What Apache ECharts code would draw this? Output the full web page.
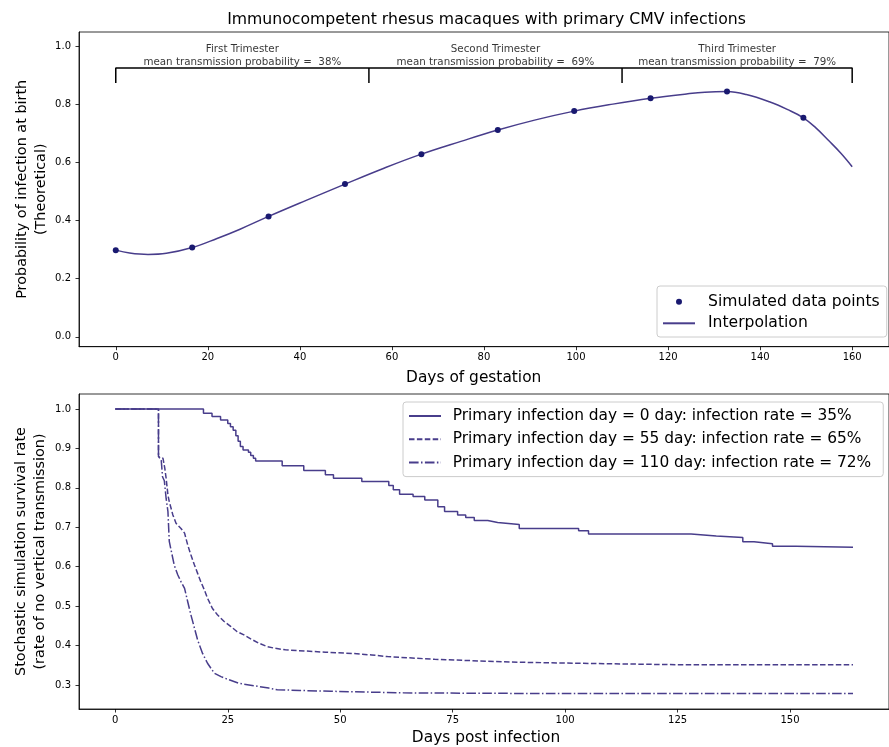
<!DOCTYPE html>
<html>
<head>
<meta charset="utf-8">
<script src="https://cdn.jsdelivr.net/npm/echarts@6/dist/echarts.min.js"></script>
<style>
html, body { margin: 0; padding: 0; background: #fff; }
#chart { width: 889px; height: 747px; }
</style>
</head>
<body>
<div id="chart"></div>
<script>
// ---------- data ----------
const chartTitle = 'Immunocompetent rhesus macaques with primary CMV infections';

// top panel: simulated points
const simX = [0, 16.6, 33.2, 49.8, 66.4, 83.0, 99.6, 116.2, 132.8, 149.4];
const simY = [0.298, 0.307, 0.414, 0.525, 0.628, 0.711, 0.776, 0.820, 0.843, 0.753];

// top panel: interpolation curve
const interpX = [0, 3, 7, 11, 16.6, 22, 27, 33.2, 41.5, 49.8, 58, 66.4, 75, 83, 91, 99.6, 108, 116.2, 124, 128, 132.8, 137, 142, 146, 149.4, 152, 155, 157.5, 160];
const interpY = [0.298, 0.288, 0.283, 0.287, 0.307, 0.338, 0.370, 0.414, 0.470, 0.525, 0.578, 0.628, 0.672, 0.711, 0.745, 0.776, 0.800, 0.820, 0.835, 0.841, 0.843, 0.833, 0.808, 0.781, 0.753, 0.720, 0.673, 0.632, 0.585];

// trimester brackets
const bracketX = [0, 55, 110, 160];
const bracketTop = 0.924;
const bracketLow = 0.873;
const trimesterNames = ['First Trimester', 'Second Trimester', 'Third Trimester'];
const trimesterProb = ['38%', '69%', '79%'];
const trimesterLabelY = 0.965;

// top axis ticks
const topXTicks = [0, 20, 40, 60, 80, 100, 120, 140, 160];
const topYTicks = [0, 0.2, 0.4, 0.6, 0.8, 1.0];

// bottom panel: survival curves [day, rate]
const nameDay0 = 'Primary infection day = 0 day: infection rate = 35%';
const nameDay55 = 'Primary infection day = 55 day: infection rate = 65%';
const nameDay110 = 'Primary infection day = 110 day: infection rate = 72%';

const day0X = [0, 19.6, 21.5, 23.4, 25.0, 25.6, 26.2, 26.8, 27.3, 27.8, 28.4, 29.6, 30.1, 30.7, 31.2, 37.1, 41.9, 46.7, 48.5, 54.8, 60.8, 61.8, 63.2, 66.2, 68.8, 71.7, 73.2, 76.1, 77.9, 79.8, 82.8, 85.0, 89.8, 103.0, 105.2, 128.0, 133.6, 139.5, 142.0, 146.1, 151.3, 164.0];
const day0Y = [1.0, 0.989, 0.981, 0.972, 0.963, 0.955, 0.946, 0.932, 0.918, 0.905, 0.896, 0.890, 0.882, 0.875, 0.868, 0.856, 0.844, 0.833, 0.824, 0.816, 0.806, 0.795, 0.784, 0.778, 0.769, 0.752, 0.740, 0.731, 0.725, 0.717, 0.712, 0.707, 0.697, 0.691, 0.683, 0.678, 0.674, 0.663, 0.658, 0.652, 0.649, 0.649];

const day55X = [0, 9.6, 9.6, 10.6, 11.0, 11.3, 11.7, 12.0, 12.8, 13.5, 14.6, 15.4, 16.1, 16.8, 17.6, 18.3, 19.0, 19.8, 20.5, 21.6, 22.7, 24.2, 25.7, 27.1, 28.6, 30.1, 31.9, 33.8, 35.5, 37.8, 42.3, 46.7, 52.6, 57.0, 60.5, 71.0, 73.5, 88.0, 102.6, 127.0, 164.0];
const day55Y = [1.0, 1.0, 0.879, 0.875, 0.850, 0.824, 0.782, 0.765, 0.731, 0.710, 0.697, 0.685, 0.655, 0.630, 0.604, 0.583, 0.562, 0.541, 0.520, 0.494, 0.478, 0.461, 0.448, 0.435, 0.427, 0.417, 0.406, 0.397, 0.393, 0.389, 0.386, 0.383, 0.380, 0.376, 0.372, 0.365, 0.364, 0.358, 0.355, 0.351, 0.351];

const day110X = [0, 9.6, 9.6, 10.2, 10.5, 10.9, 11.3, 11.7, 12.0, 12.4, 13.1, 13.9, 14.6, 15.4, 16.1, 16.8, 17.6, 18.3, 19.4, 20.5, 22.0, 23.5, 25.3, 27.5, 29.7, 31.9, 34.1, 36.0, 41.0, 48.0, 56.0, 64.0, 80.0, 100.0, 164.0];
const day110Y = [1.0, 1.0, 0.879, 0.872, 0.828, 0.818, 0.773, 0.740, 0.664, 0.642, 0.604, 0.579, 0.562, 0.545, 0.511, 0.478, 0.444, 0.414, 0.380, 0.355, 0.330, 0.321, 0.313, 0.304, 0.300, 0.296, 0.292, 0.288, 0.286, 0.284, 0.282, 0.280, 0.279, 0.278, 0.278];

const botXTicks = [0, 25, 50, 75, 100, 125, 150];
const botYTicks = [0.3, 0.4, 0.5, 0.6, 0.7, 0.8, 0.9, 1.0];

// ---------- chart ----------
const FONT = "'DejaVu Sans', 'Noto Sans', sans-serif";
const LINE_COLOR = '#483D8B';
const POINT_COLOR = '#191970';

const zip = (xs, ys) => xs.map((x, i) => [x, ys[i]]);

const bracketData = [];
bracketX.forEach((x, i) => {
  if (i === 0) { bracketData.push([x, bracketLow]); bracketData.push([x, bracketTop]); }
  else { bracketData.push([x, bracketTop]); bracketData.push([x, bracketLow]); if (i < bracketX.length - 1) bracketData.push([x, bracketTop]); }
});
const trimesterData = trimesterNames.map((n, i) => ({
  value: [(bracketX[i] + bracketX[i + 1]) / 2, trimesterLabelY],
  name: n + '\nmean transmission probability =  ' + trimesterProb[i]
}));

function axisCommon(ticks, fmt) {
  return {
    type: 'value',
    axisLine: { show: true, onZero: false, lineStyle: { color: '#000', width: 0.8 } },
    axisTick: { show: true, length: 3.5, lineStyle: { color: '#000', width: 0.8 }, customValues: ticks },
    axisLabel: { customValues: ticks, color: '#000', fontSize: 10, fontFamily: FONT, formatter: fmt },
    splitLine: { show: false },
    minorTick: { show: false }
  };
}

// legend entries for line series: hide the marker that ECharts adds to line icons
const hiddenMarker = { color: 'rgba(0,0,0,0)', borderWidth: 0, opacity: 0 };

const chart = echarts.init(document.getElementById('chart'), null, { renderer: 'canvas' });

const option = {
  animation: false,
  backgroundColor: '#fff',
  textStyle: { fontFamily: FONT },
  grid: [
    { left: 79, top: 32, width: 815, height: 314.7, show: true, borderColor: '#000', borderWidth: 0.8, containLabel: false },
    { left: 79, top: 394, width: 815, height: 315, show: true, borderColor: '#000', borderWidth: 0.8, containLabel: false }
  ],
  xAxis: [
    Object.assign(axisCommon(topXTicks, v => String(v)), { gridIndex: 0, min: -7.99, max: 168, axisLabel: { customValues: topXTicks, color: '#000', fontSize: 10, fontFamily: FONT, margin: 6 } }),
    Object.assign(axisCommon(botXTicks, v => String(v)), { gridIndex: 1, min: -8.07, max: 172.0, axisLabel: { customValues: botXTicks, color: '#000', fontSize: 10, fontFamily: FONT, margin: 6 } })
  ],
  yAxis: [
    Object.assign(axisCommon(topYTicks, v => v.toFixed(1)), { gridIndex: 0, min: -0.034, max: 1.048 }),
    Object.assign(axisCommon(botYTicks, v => v.toFixed(1)), { gridIndex: 1, min: 0.239, max: 1.038 })
  ],
  legend: [
    {
      data: [{ name: 'Simulated data points' }, { name: 'Interpolation', itemStyle: hiddenMarker }],
      orient: 'vertical', left: 657, top: 286,
      itemWidth: 32, itemHeight: 6, itemGap: 3.6,
      padding: [6.7, 7, 4.7, 5],
      borderColor: '#cccccc', borderWidth: 1, borderRadius: 3,
      backgroundColor: 'rgba(255,255,255,0.8)',
      selectedMode: false,
      textStyle: { fontSize: 15.6, fontFamily: FONT, color: '#000', lineHeight: 18, padding: [0, 0, 0, 8] }
    },
    {
      data: [{ name: nameDay0, itemStyle: hiddenMarker }, { name: nameDay55, itemStyle: hiddenMarker }, { name: nameDay110, itemStyle: hiddenMarker }],
      orient: 'vertical', left: 403, top: 402,
      itemWidth: 32, itemHeight: 8, itemGap: 5.3,
      padding: [5, 12, 5, 5],
      borderColor: '#cccccc', borderWidth: 1, borderRadius: 3,
      backgroundColor: 'rgba(255,255,255,0.8)',
      selectedMode: false,
      textStyle: { fontSize: 15.4, fontFamily: FONT, color: '#000', lineHeight: 18, padding: [0, 0, 0, 6.7] }
    }
  ],
  graphic: [
    { type: 'text', x: 486.5, y: 20, style: { text: chartTitle, font: '15.7px ' + FONT, fill: '#000', align: 'center', verticalAlign: 'middle', textAlign: 'center', textVerticalAlign: 'middle' } },
    { type: 'text', x: 473.7, y: 378, style: { text: 'Days of gestation', font: '15.4px ' + FONT, fill: '#000', align: 'center', verticalAlign: 'middle', textAlign: 'center', textVerticalAlign: 'middle' } },
    { type: 'text', x: 486, y: 737.5, style: { text: 'Days post infection', font: '15.4px ' + FONT, fill: '#000', align: 'center', verticalAlign: 'middle', textAlign: 'center', textVerticalAlign: 'middle' } },
    { type: 'text', x: 31.5, y: 189.3, rotation: Math.PI / 2, style: { text: 'Probability of infection at birth\n(Theoretical)', font: '14.4px ' + FONT, lineHeight: 19.2, fill: '#000', align: 'center', verticalAlign: 'middle', textAlign: 'center', textVerticalAlign: 'middle' } },
    { type: 'text', x: 31, y: 551.5, rotation: Math.PI / 2, style: { text: 'Stochastic simulation survival rate\n(rate of no vertical transmission)', font: '14.4px ' + FONT, lineHeight: 19.2, fill: '#000', align: 'center', verticalAlign: 'middle', textAlign: 'center', textVerticalAlign: 'middle' } }
  ],
  series: [
    {
      name: 'Interpolation', type: 'line', xAxisIndex: 0, yAxisIndex: 0,
      data: zip(interpX, interpY), symbol: 'none', showSymbol: false, smooth: 0.4,
      lineStyle: { color: LINE_COLOR, width: 1.5 }, itemStyle: { color: LINE_COLOR }, z: 2
    },
    {
      name: 'Simulated data points', type: 'scatter', xAxisIndex: 0, yAxisIndex: 0,
      data: zip(simX, simY), symbol: 'circle', symbolSize: 6,
      itemStyle: { color: POINT_COLOR, opacity: 1 }, z: 3
    },
    {
      name: 'bracket', type: 'line', xAxisIndex: 0, yAxisIndex: 0,
      data: bracketData, symbol: 'none', silent: true,
      lineStyle: { color: '#000', width: 1.5 }, z: 2
    },
    {
      name: 'trimesters', type: 'scatter', xAxisIndex: 0, yAxisIndex: 0,
      data: trimesterData, symbolSize: 1, silent: true,
      itemStyle: { color: 'rgba(0,0,0,0)' },
      label: { show: true, position: 'inside', formatter: p => p.name, color: '#000', fontSize: 10.3, fontFamily: FONT, lineHeight: 13, align: 'center', verticalAlign: 'middle' }
    },
    {
      name: nameDay0, type: 'line', xAxisIndex: 1, yAxisIndex: 1,
      data: zip(day0X, day0Y), step: 'end', symbol: 'none',
      lineStyle: { color: LINE_COLOR, width: 1.5, type: 'solid' }, itemStyle: { color: LINE_COLOR }
    },
    {
      name: nameDay55, type: 'line', xAxisIndex: 1, yAxisIndex: 1,
      data: zip(day55X, day55Y), symbol: 'none',
      lineStyle: { color: LINE_COLOR, width: 1.5, type: [5.5, 2.4] }, itemStyle: { color: LINE_COLOR }
    },
    {
      name: nameDay110, type: 'line', xAxisIndex: 1, yAxisIndex: 1,
      data: zip(day110X, day110Y), symbol: 'none',
      lineStyle: { color: LINE_COLOR, width: 1.5, type: [9.6, 2.4, 1.5, 2.4] }, itemStyle: { color: LINE_COLOR }
    }
  ]
};

chart.setOption(option);
</script>
</body>
</html>
